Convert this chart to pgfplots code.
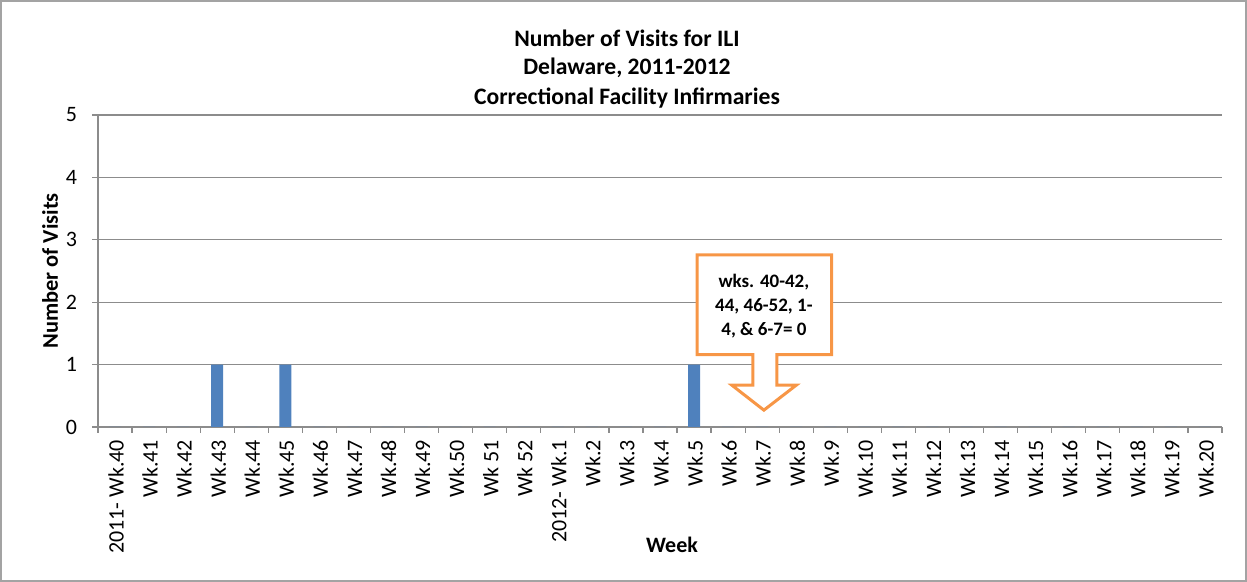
\documentclass[border=0pt]{standalone}
\usepackage{pgfplots}
\pgfplotsset{compat=1.18}
\usepackage{fontspec}
\setmainfont{Carlito}
\definecolor{barblue}{HTML}{4F81BD}
\definecolor{callout}{HTML}{F79646}
\definecolor{gridgray}{HTML}{8C8C8C}
\begin{document}
\begin{tikzpicture}
\draw[gridgray!80, line width=0.8pt] (0.4pt,0.4pt) rectangle (623.1pt,290.6pt);
\node[font=\fontsize{11.8}{13}\selectfont\bfseries] at (313.5pt,272pt) {Number of Visits for ILI};
\node[font=\fontsize{11.8}{13}\selectfont\bfseries] at (313.5pt,257pt) {Delaware, 2011-2012};
\node[font=\fontsize{11.8}{13}\selectfont\bfseries] at (313.5pt,242pt) {Correctional Facility Infirmaries};
\node[font=\fontsize{11.2}{13}\selectfont\bfseries, rotate=90] at (25pt,155.5pt) {Number of Visits};
\node[font=\fontsize{11}{13}\selectfont\bfseries] at (336pt,18.5pt) {Week};
\begin{axis}[
  at={(49pt,77.5pt)}, anchor=south west,
  scale only axis, width=562pt, height=156pt,
  xmin=-0.5, xmax=32.5, ymin=0, ymax=5,
  axis lines*=left,
  axis line style={gridgray, line width=0.6pt},
  ytick={0,1,2,3,4,5},
  ymajorgrids, grid style={gridgray, line width=0.6pt},
  xtick={0,...,32},
  xticklabels={2011- Wk.40, Wk.41, Wk.42, Wk.43, Wk.44, Wk.45, Wk.46, Wk.47, Wk.48, Wk.49, Wk.50, Wk 51, Wk 52, 2012- Wk.1, Wk.2, Wk.3, Wk.4, Wk.5, Wk.6, Wk.7, Wk.8, Wk.9, Wk.10, Wk.11, Wk.12, Wk.13, Wk.14, Wk.15, Wk.16, Wk.17, Wk.18, Wk.19, Wk.20},
  minor xtick={-0.5,0.5,...,32.5},
  major x tick style={draw=none},
  minor x tick style={gridgray, line width=0.6pt},
  y tick style={gridgray, line width=0.6pt},
  tick align=outside,
  major tick length=3pt, minor tick length=3pt,
  x tick label style={rotate=90, anchor=east, font=\fontsize{11}{13}\selectfont, yshift=-0.5pt},
  y tick label style={font=\fontsize{11}{13}\selectfont, xshift=-4pt},
  /pgf/number format/assume math mode=true,
  clip=false,
]
\addplot[ybar, bar width=6pt, fill=barblue, draw=none] coordinates {
(0,0) (1,0) (2,0) (3,1) (4,0) (5,1) (6,0) (7,0) (8,0) (9,0) (10,0) (11,0) (12,0)
(13,0) (14,0) (15,0) (16,0) (17,1) (18,0) (19,0) (20,0) (21,0) (22,0) (23,0) (24,0)
(25,0) (26,0) (27,0) (28,0) (29,0) (30,0) (31,0) (32,0)};
\draw[callout, line width=1.5pt, fill=white, line join=miter]
 (axis cs:17.09,2.76) -- (axis cs:21.04,2.76) -- (axis cs:21.04,1.16) -- (axis cs:19.43,1.16)
 -- (axis cs:19.43,0.67) -- (axis cs:20.0,0.67) -- (axis cs:19.05,0.27) -- (axis cs:18.11,0.67)
 -- (axis cs:18.73,0.67) -- (axis cs:18.73,1.16) -- (axis cs:17.09,1.16) -- cycle;
\node[align=center, font=\fontsize{9.5}{12}\selectfont\bfseries] at (axis cs:19.05,1.93)
 {wks. 40-42,\\44, 46-52, 1-\\4, \& 6-7= 0};
\end{axis}
\end{tikzpicture}
\end{document}
